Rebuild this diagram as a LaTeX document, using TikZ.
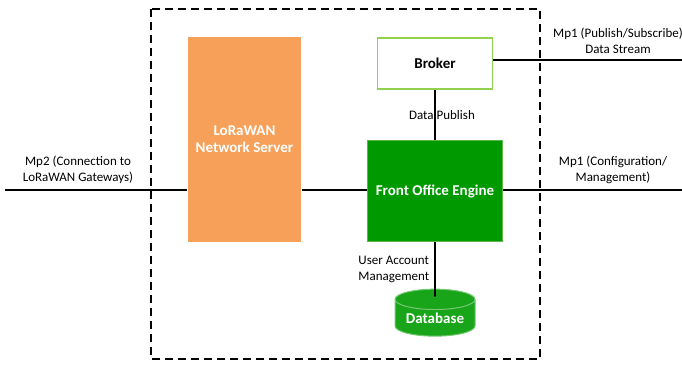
\documentclass[tikz,border=0pt]{standalone}
\usepackage{fontspec}
\setmainfont{Carlito}
\usepackage{tikz}
\usetikzlibrary{shapes.geometric, positioning}

\definecolor{lnsorange}{RGB}{246,160,90}
\definecolor{foegreen}{RGB}{0,153,0}
\definecolor{foeborder}{RGB}{90,185,70}
\definecolor{dbgreen}{RGB}{25,165,25}
\definecolor{brokerborder}{RGB}{146,208,80}

\begin{document}
\begin{tikzpicture}[x=1pt, y=-1pt, line width=1.6pt,
  box/.style={rectangle, inner sep=0pt, font=\fontsize{15}{17}\selectfont\bfseries, align=center},
  lbl/.style={font=\fontsize{13}{15.5}\selectfont, align=center, inner sep=1pt}]

\useasboundingbox (0,0) rectangle (682,364);

% Outer boundary
\draw[dash pattern=on 8pt off 5pt, line width=2pt] (151,9) rectangle (540,359);

% Blocks
\node[box, fill=lnsorange, text=white, minimum width=113pt, minimum height=205pt] (lns) at (244.5,139.5) {LoRaWAN\\Network Server};
\node[box, draw=brokerborder, fill=white, minimum width=115pt, minimum height=51pt] (broker) at (435,63.5) {Broker};
\node[box, draw=foeborder, fill=foegreen, text=white, line width=1.2pt, minimum width=135pt, minimum height=101pt] (foe) at (435,191) {Front Office Engine};
\node[box, cylinder, shape border rotate=90, aspect=0.35, draw=dbgreen!60!white, fill=dbgreen, text=white, line width=1pt, minimum width=80pt, minimum height=47pt] (db) at (435,318) {\raisebox{-5pt}{Database}};

% End points of the external interfaces
\coordinate (mp2) at (5,190);
\coordinate (mp1cfg) at (682,190);
\coordinate (mp1pub) at (682,60);

% Connectors
\draw (mp2) -- (mp2 -| lns.west);
\draw (lns.east |- mp2) -- (foe.west |- mp2);
\draw (foe.east |- mp2) -- (mp1cfg);
\draw (broker.east |- mp1pub) -- (mp1pub);
\draw (broker.south) -- (foe.north) node[lbl, midway, xshift=7pt] {Data Publish};
\draw (foe.south) -- ([yshift=-8pt]db.north) node[lbl, midway, left, align=left, xshift=-4pt] {User Account\\Management};

% Interface labels
\node[lbl] (mp2lbl) at (78,170) {Mp2 (Connection to\\LoRaWAN Gateways)};
\node[lbl] (mp1publbl) at (618,41) {Mp1 (Publish/Subscribe)\\Data Stream};
\node[lbl] (mp1cfglbl) at (613,170) {Mp1 (Configuration/\\Management)};
\end{tikzpicture}
\end{document}
